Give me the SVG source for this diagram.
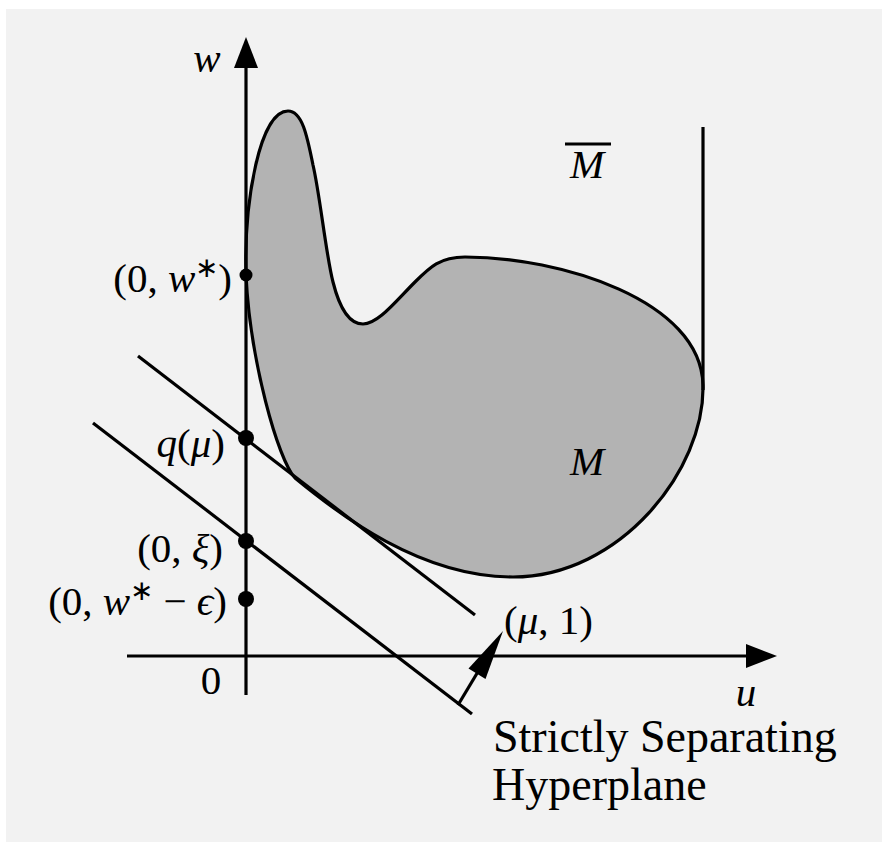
<svg xmlns="http://www.w3.org/2000/svg" width="882" height="842" viewBox="0 0 882 842">
<style>
.bg{fill:#f2f2f2}
.ln{stroke:#000;stroke-width:3.2;fill:none;stroke-linecap:butt}
.blob{fill:#b3b3b3;stroke:#000;stroke-width:3.2;stroke-linejoin:round}
.m{font-family:"Liberation Serif","Times New Roman",serif;font-size:41px;fill:#000}
.t{font-family:"Liberation Serif","Times New Roman",serif;font-size:46px;fill:#000}
.i{font-style:italic}
.dot{fill:#000}
</style>
<rect class="bg" x="6" y="9" width="876" height="833"/>
<g id="setM">
<path class="blob" d="M246,275 C244,200 260,111 288,111 C302,111 307,135 313,165 C320,195 326,255 333,282 C340,310 350,324 363,324 C378,324 395,302 415,282 C430,267 440,257 465,257 C560,257 701,300 703,385 C705,470 620,577 513,577 C420,577 340,515 295,478 C278,460 250,360 246,275 Z"/>
</g>
<g id="boundary">
<line class="ln" x1="703" y1="127" x2="703" y2="390"/>
</g>
<g id="connectors">
<line class="ln" x1="246" y1="695" x2="246" y2="62"/>
<polygon points="246,37 234,68 258,68" fill="#000"/>
<line class="ln" x1="127" y1="656" x2="752" y2="656"/>
<polygon points="777,656 746,644 746,668" fill="#000"/>
<line class="ln" x1="138" y1="356" x2="475" y2="615"/>
<line class="ln" x1="93" y1="423" x2="472" y2="714"/>
<line class="ln" x1="458" y1="705" x2="482" y2="665"/>
<polygon points="503,631 485.5,679 468.5,668.5" fill="#000"/>
</g>
<g id="points">
<circle class="dot" cx="246" cy="275" r="6.5"/>
<circle class="dot" cx="246" cy="438" r="8"/>
<circle class="dot" cx="246" cy="541" r="8"/>
<circle class="dot" cx="246" cy="599" r="8"/>
</g>
<g id="labels">
<text class="m i" x="207" y="72" text-anchor="middle">w</text>
<text class="m i" x="746" y="706" text-anchor="middle">u</text>
<text class="m" x="211" y="694" text-anchor="middle">0</text>
<text class="m" x="232" y="292" text-anchor="end">(0, <tspan class="i">w</tspan><tspan dy="-15" font-size="28">∗</tspan><tspan dy="15">)</tspan></text>
<text class="m" x="225" y="457" text-anchor="end"><tspan class="i">q</tspan>(<tspan class="i">μ</tspan>)</text>
<text class="m" x="223" y="562" text-anchor="end">(0, <tspan class="i">ξ</tspan>)</text>
<text class="m" x="227" y="615" text-anchor="end">(0, <tspan class="i">w</tspan><tspan dy="-15" font-size="28">∗</tspan><tspan dy="15"> − </tspan><tspan class="i">ϵ</tspan>)</text>
<text class="m" x="504" y="634">(<tspan class="i">μ</tspan>, 1)</text>
<text class="m i" x="587" y="178" text-anchor="middle">M</text>
<line x1="565" y1="144" x2="611" y2="144" stroke="#000" stroke-width="3"/>
<text class="m i" x="587" y="475" text-anchor="middle">M</text>
<text class="t" x="493" y="752">Strictly Separating</text>
<text class="t" x="492" y="800">Hyperplane</text>
</g>
</svg>
